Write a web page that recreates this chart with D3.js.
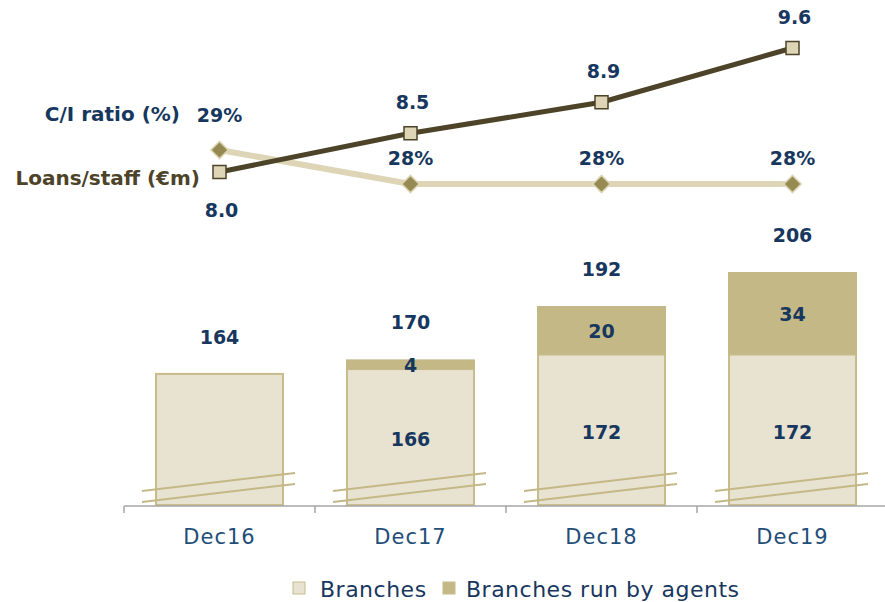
<!DOCTYPE html>
<html>
<head>
<meta charset="utf-8">
<script src="https://cdn.jsdelivr.net/npm/d3@7"></script>
<style>
  body { margin: 0; background: #fff; }
  svg { display: block; }
  .num { font-family: "DejaVu Sans", sans-serif; font-weight: 700; font-size: 19px; fill: #17375e; }
  .name { font-family: "DejaVu Sans", sans-serif; font-weight: 700; font-size: 20px; fill: #17375e; }
  .cat { font-family: "DejaVu Sans", sans-serif; font-size: 21px; fill: #1f4e79; letter-spacing: 1px; }
  .leg { font-family: "DejaVu Sans", sans-serif; font-size: 22px; fill: #17375e; letter-spacing: 0.5px; }
</style>
</head>
<body>
<svg id="chart" width="885" height="602"></svg>
<script>
// data
var categories = ["Dec16", "Dec17", "Dec18", "Dec19"];
var branches = [164, 166, 172, 172];
var agents = [0, 4, 20, 34];
var totals = [164, 170, 192, 206];
var loansStaff = [8.0, 8.5, 8.9, 9.6];
var ciRatio = [29, 28, 28, 28];
var seriesNames = ["Branches", "Branches run by agents"];

var svg = d3.select("#chart");

var x = d3.scaleBand().domain(categories).range([124, 888])
  .paddingInner(0.335).paddingOuter(0.1675);
// broken axis: bars start well above zero
var yBar = d3.scaleLinear().domain([110, 206]).range([505, 272]);
var yLoans = d3.scaleLinear().domain([8.0, 9.6]).range([172, 48]);
var yCI = d3.scaleLinear().domain([28, 29]).range([184, 150]);

var cx = function(i) { return x(categories[i]) + x.bandwidth() / 2; };

// rows with index kept, so filters don't shift things
var rows = categories.map(function(c, i) {
  return { cat: c, i: i, br: branches[i], ag: agents[i], tot: totals[i] };
});

// bars - branches
svg.selectAll("rect.br").data(rows).enter().append("rect")
  .attr("class", "br")
  .attr("x", function(d) { return x(d.cat); })
  .attr("y", function(d) { return yBar(d.br); })
  .attr("width", x.bandwidth())
  .attr("height", function(d) { return yBar(110) - yBar(d.br); })
  .attr("fill", "#e8e2d0").attr("stroke", "#c8bc8c").attr("stroke-width", 2);

// bars - agents
svg.selectAll("rect.ag").data(rows.filter(function(d) { return d.ag > 0; })).enter().append("rect")
  .attr("class", "ag")
  .attr("x", function(d) { return x(d.cat) - 1; })
  .attr("y", function(d) { return yBar(d.br + d.ag); })
  .attr("width", x.bandwidth() + 2)
  .attr("height", function(d) { return yBar(d.br) - yBar(d.br + d.ag); })
  .attr("fill", "#c4b887");

// break marks
categories.forEach(function(c) {
  var x0 = x(c) - 14, x1 = x(c) + x.bandwidth() + 12;
  [[491, 473], [502, 484]].forEach(function(p) {
    svg.append("line").attr("x1", x0).attr("y1", p[0]).attr("x2", x1).attr("y2", p[1])
      .attr("stroke", "#c4b887").attr("stroke-width", 2);
  });
});

// x axis
var ax = svg.append("g");
ax.append("line").attr("x1", 124).attr("x2", 888).attr("y1", 506).attr("y2", 506)
  .attr("stroke", "#a6a6a6").attr("stroke-width", 1.5);
d3.range(categories.length).forEach(function(i) {
  var tx = x(categories[i]) - x.step() * x.paddingInner() / 2;
  ax.append("line").attr("x1", tx).attr("x2", tx).attr("y1", 506).attr("y2", 513)
    .attr("stroke", "#a6a6a6").attr("stroke-width", 1.5);
});
svg.selectAll("text.cat").data(rows).enter().append("text")
  .attr("class", "cat")
  .attr("x", function(d) { return cx(d.i); }).attr("y", 544)
  .attr("text-anchor", "middle").text(function(d) { return d.cat; });

// bar labels
svg.selectAll("text.tot").data(rows).enter().append("text")
  .attr("class", "num").attr("text-anchor", "middle")
  .attr("x", function(d) { return cx(d.i); })
  .attr("y", function(d) { return yBar(d.tot) - 30; })
  .text(function(d) { return d.tot; });
svg.selectAll("text.brl").data(rows.filter(function(d) { return d.ag > 0; })).enter().append("text")
  .attr("class", "num").attr("text-anchor", "middle")
  .attr("x", function(d) { return cx(d.i); })
  .attr("y", function(d) { return (yBar(d.br) + yBar(110)) / 2 + 9; })
  .text(function(d) { return d.br; });
svg.selectAll("text.agl").data(rows.filter(function(d) { return d.ag > 0; })).enter().append("text")
  .attr("class", "num").attr("text-anchor", "middle")
  .attr("x", function(d) { return cx(d.i); })
  .attr("y", function(d) { return (yBar(d.br) + yBar(d.br + d.ag)) / 2 + 8; })
  .text(function(d) { return d.ag; });

// C/I ratio line
var ciLine = d3.line().x(function(d, i) { return cx(i); }).y(function(d) { return yCI(d); });
svg.append("path").datum(ciRatio).attr("d", ciLine)
  .attr("fill", "none").attr("stroke", "#ddd5b5").attr("stroke-width", 6);
svg.selectAll("path.dia").data(ciRatio).enter().append("path")
  .attr("d", d3.symbol().type(d3.symbolSquare).size(150))
  .attr("transform", function(d, i) { return "translate(" + cx(i) + "," + yCI(d) + ") rotate(45)"; })
  .attr("fill", "#948a52").attr("stroke", "#ddd5b5").attr("stroke-width", 1.5);

// Loans/staff line
var loanLine = d3.line().x(function(d, i) { return cx(i); }).y(function(d) { return yLoans(d); });
svg.append("path").datum(loansStaff).attr("d", loanLine)
  .attr("fill", "none").attr("stroke", "#4d4328").attr("stroke-width", 5);
svg.selectAll("rect.sq").data(loansStaff).enter().append("rect")
  .attr("x", function(d, i) { return cx(i) - 6.5; })
  .attr("y", function(d) { return yLoans(d) - 6.5; })
  .attr("width", 13).attr("height", 13)
  .attr("fill", "#ddd5b5").attr("stroke", "#4d4328").attr("stroke-width", 1.5);

// line labels
svg.selectAll("text.ci").data(ciRatio).enter().append("text")
  .attr("class", "num").attr("text-anchor", "middle")
  .attr("x", function(d, i) { return cx(i); })
  .attr("y", function(d, i) { return i === 0 ? yCI(d) - 28 : yCI(d) - 19; })
  .text(function(d) { return d + "%"; });
svg.selectAll("text.ln").data(loansStaff).enter().append("text")
  .attr("class", "num").attr("text-anchor", "middle")
  .attr("x", function(d, i) { return cx(i) + 2; })
  .attr("y", function(d, i) { return i === 0 ? yLoans(d) + 45 : yLoans(d) - 24; })
  .text(function(d) { return d.toFixed(1); });

// series names
svg.append("text").attr("class", "name").attr("x", 180).attr("y", 121)
  .attr("text-anchor", "end").text("C/I ratio (%)");
svg.append("text").attr("class", "name").attr("x", 200).attr("y", 185)
  .attr("text-anchor", "end").style("fill", "#4d4328").text("Loans/staff (€m)");

// legend
var leg = svg.append("g").attr("transform", "translate(293,582)");
var legX = [0, 150];
var legFill = ["#e8e2d0", "#c4b887"];
seriesNames.forEach(function(s, i) {
  leg.append("rect").attr("x", legX[i]).attr("y", 0).attr("width", 12).attr("height", 12)
    .attr("fill", legFill[i]).attr("stroke", "#c8bc8c").attr("stroke-width", 1);
  leg.append("text").attr("class", "leg").attr("x", legX[i] + (i === 0 ? 27 : 23)).attr("y", 15)
    .text(s);
});
</script>
</body>
</html>
